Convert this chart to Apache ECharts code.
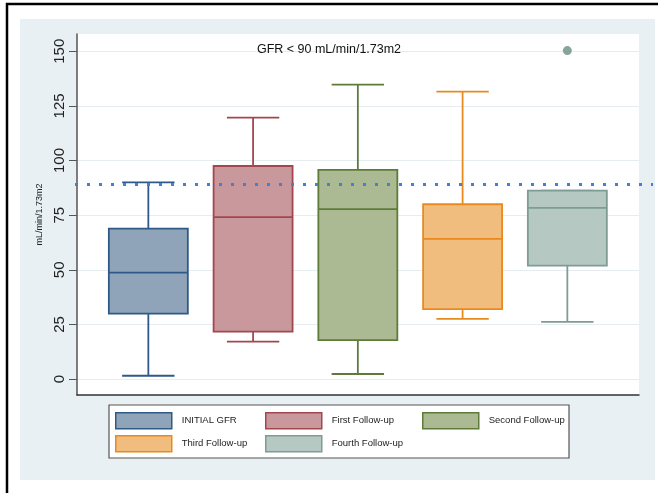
<!DOCTYPE html>
<html>
<head>
<meta charset="utf-8">
<script src="https://cdn.jsdelivr.net/npm/echarts@6/dist/echarts.min.js"></script>
<style>
  html, body { margin: 0; padding: 0; background: #fff; }
  #chart { width: 658px; height: 493px; }
</style>
</head>
<body>
<div id="chart"></div>
<script>
// groups, left to right
const categories = ['INITIAL GFR', 'First Follow-up', 'Second Follow-up', 'Third Follow-up', 'Fourth Follow-up']
// box stats
const lowWhisker = [1.5, 17.1, 2.3, 27.5, 26.2]
const q1 = [29.9, 21.7, 17.8, 32.0, 51.9]
const median = [48.7, 74.1, 77.8, 64.1, 78.3]
const q3 = [68.8, 97.5, 95.7, 80.0, 86.2]
const highWhisker = [90.0, 119.6, 134.7, 131.5, 86.2]
// outliers as [group index, value]
const outliers = [[4, 150.3]]
const refValue = 89
const yTicks = [0, 25, 50, 75, 100, 125, 150]

const fills = ['#8fa4b9', '#c9989c', '#abba93', '#f1bd7e', '#b6c8c2']
const borders = ['#2f5a88', '#a3474f', '#5e7b3a', '#e98a1f', '#7e9c93']

const chart = echarts.init(document.getElementById('chart'))

const Y_MIN = -7.3
const Y_MAX = 157.9

const boxSeries = categories.map((name, i) => ({
  name: name,
  type: 'custom',
  xAxisIndex: 0,
  yAxisIndex: 0,
  itemStyle: { color: fills[i], borderColor: borders[i], borderWidth: 1.8 },
  data: [[i + 1, lowWhisker[i], q1[i], median[i], q3[i], highWhisker[i]]],
  encode: { x: 0, y: [1, 2, 3, 4, 5] },
  renderItem: function (params, api) {
    const x = api.value(0)
    const unit = api.size([1, 0])[0]
    const half = unit * 0.377
    const cap = unit * 0.25
    const pLow = api.coord([x, api.value(1)])
    const pQ1 = api.coord([x, api.value(2)])
    const pMed = api.coord([x, api.value(3)])
    const pQ3 = api.coord([x, api.value(4)])
    const pHigh = api.coord([x, api.value(5)])
    const cx = pQ1[0]
    const stroke = { stroke: borders[i], lineWidth: 1.8 }
    return {
      type: 'group',
      children: [
        { type: 'line', shape: { x1: cx, y1: pQ3[1], x2: cx, y2: pHigh[1] }, style: stroke },
        { type: 'line', shape: { x1: cx - cap, y1: pHigh[1], x2: cx + cap, y2: pHigh[1] }, style: stroke },
        { type: 'line', shape: { x1: cx, y1: pQ1[1], x2: cx, y2: pLow[1] }, style: stroke },
        { type: 'line', shape: { x1: cx - cap, y1: pLow[1], x2: cx + cap, y2: pLow[1] }, style: stroke },
        { type: 'rect', shape: { x: cx - half, y: pQ3[1], width: half * 2, height: pQ1[1] - pQ3[1] },
          style: { fill: fills[i], stroke: borders[i], lineWidth: 1.8 } },
        { type: 'line', shape: { x1: cx - half, y1: pMed[1], x2: cx + half, y2: pMed[1] }, style: stroke }
      ]
    }
  }
}))

const option = {
  backgroundColor: '#fff',
  animation: false,
  title: {
    text: 'GFR < 90 mL/min/1.73m2',
    left: 324,
    top: 38,
    textAlign: 'center',
    textStyle: { fontFamily: 'Liberation Sans', fontSize: 12.5, fontWeight: 'normal', color: '#111' }
  },
  graphic: [
    // outer frame and gray panel
    { type: 'rect', z: -10, shape: { x: 7, y: 4, width: 660, height: 500 },
      style: { fill: '#fff', stroke: '#000', lineWidth: 2.5 } },
    { type: 'rect', z: -9, shape: { x: 20, y: 19, width: 635, height: 461 },
      style: { fill: '#e9f0f3' } },
    // legend frame
    { type: 'rect', z: -5, shape: { x: 109, y: 405, width: 460, height: 53 },
      style: { fill: '#fff', stroke: '#555', lineWidth: 1.2 } }
  ],
  legend: [
    { data: [categories[0], categories[3]], left: 115, top: 412, orient: 'vertical' },
    { data: [categories[1], categories[4]], left: 265, top: 412, orient: 'vertical' },
    { data: [categories[2]], left: 422, top: 412, orient: 'vertical' }
  ].map(l => Object.assign(l, {
    icon: 'rect',
    itemWidth: 56,
    itemHeight: 16,
    itemGap: 5.5,
    padding: 0,
    selectedMode: false,
    itemStyle: { borderWidth: 1.5 },
    textStyle: { fontFamily: 'Liberation Sans', fontSize: 9.5, color: '#222', padding: [0, 0, 0, 5] }
  })),
  grid: [
    { left: 77, right: 19, top: 34, bottom: 98, show: true, backgroundColor: '#fff', borderWidth: 0 },
    { left: 75, right: 5, top: 34, bottom: 98, show: false }
  ],
  xAxis: [
    {
      type: 'value', gridIndex: 0, min: 0.319, max: 5.684,
      axisLine: { show: true, onZero: false, lineStyle: { color: '#333', width: 1.5 } },
      axisTick: { show: false }, axisLabel: { show: false }, splitLine: { show: false }
    },
    { type: 'value', gridIndex: 1, min: 0, max: 1, show: false }
  ],
  yAxis: [
    {
      type: 'value', gridIndex: 0, min: Y_MIN, max: Y_MAX,
      name: 'mL/min/1.73m2',
      nameLocation: 'middle',
      nameGap: 30,
      nameRotate: 90,
      nameTextStyle: { fontFamily: 'Liberation Sans', fontSize: 9, color: '#222' },
      axisLine: { show: true, lineStyle: { color: '#555', width: 1.5 } },
      axisTick: { show: true, length: 8, customValues: yTicks, lineStyle: { color: '#555', width: 1 } },
      axisLabel: {
        customValues: yTicks, rotate: 90, margin: 10,
        fontFamily: 'Liberation Sans', fontSize: 15, color: '#222'
      },
      splitLine: { show: true, lineStyle: { color: '#e6edf1', width: 1.2 } }
    },
    { type: 'value', gridIndex: 1, min: Y_MIN, max: Y_MAX, show: false }
  ],
  series: boxSeries.concat([
    {
      name: 'outlier',
      type: 'scatter',
      xAxisIndex: 0,
      yAxisIndex: 0,
      symbol: 'circle',
      symbolSize: 9,
      itemStyle: { color: '#6a8f80' },
      data: outliers.map(o => [o[0] + 1, o[1]])
    },
    {
      name: 'ref',
      type: 'line',
      xAxisIndex: 1,
      yAxisIndex: 1,
      symbol: 'none',
      z: 5,
      lineStyle: { color: '#3f80d8', width: 3, type: [3, 9], cap: 'butt' },
      data: [[0, refValue], [1, refValue]]
    }
  ])
}

chart.setOption(option)
window.addEventListener('resize', () => chart.resize())
</script>
</body>
</html>
